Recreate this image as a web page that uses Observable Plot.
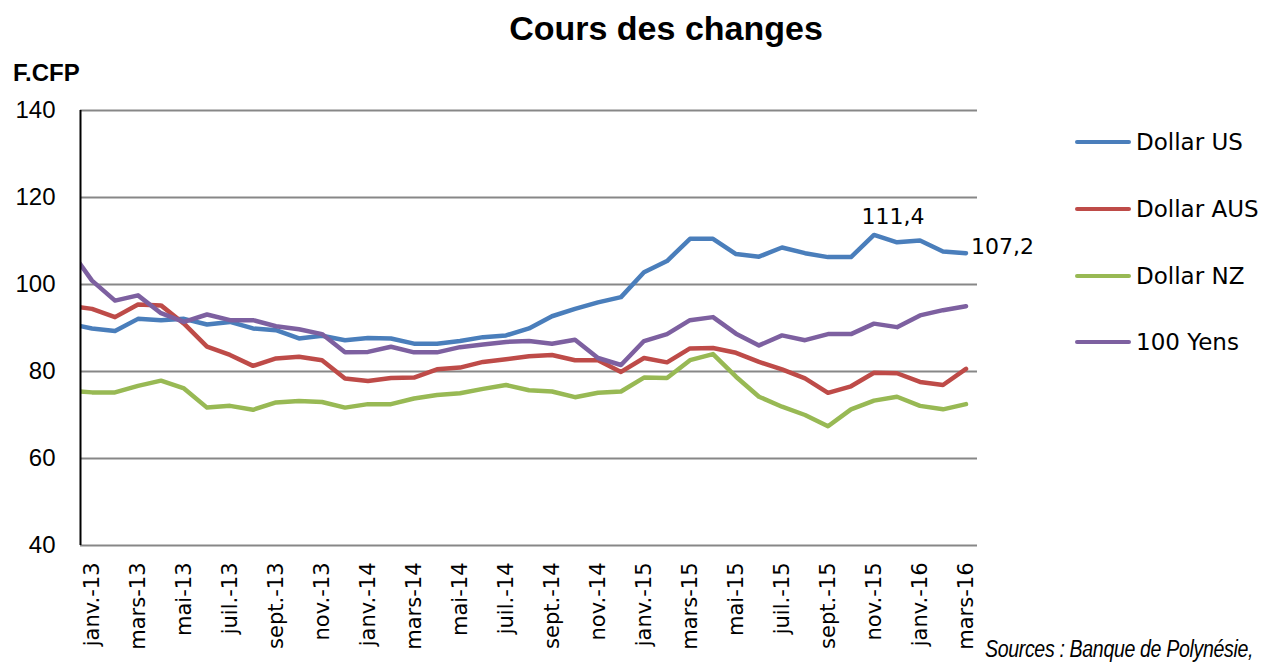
<!DOCTYPE html>
<html>
<head>
<meta charset="utf-8">
<script src="https://cdn.jsdelivr.net/npm/d3@7"></script>
<script src="https://cdn.jsdelivr.net/npm/@observablehq/plot@0.6"></script>
<style>
  html, body { margin: 0; padding: 0; background: #fff; }
  #wrap { position: relative; width: 1262px; height: 663px; overflow: hidden; background: #fff; }
  #wrap svg { position: absolute; left: 0; top: 0; }
  .title { position: absolute; left: 0; width: 1332px; top: 8px; text-align: center;
           font-family: "Liberation Sans", Arial, sans-serif; font-weight: bold; font-size: 34px; line-height: 40px; color: #000; }
  .unit { position: absolute; left: 13px; top: 60px; font-family: "Liberation Sans", Arial, sans-serif;
          font-weight: bold; font-size: 24px; line-height: 26px; color: #000; }
  .leg { position: absolute; left: 1075px; height: 30px; display: flex; align-items: center;
         font-family: "DejaVu Sans", sans-serif; font-size: 23px; color: #000; white-space: nowrap; }
  .leg span.sw { display: inline-block; width: 56px; height: 4px; border-radius: 2px; margin-right: 5px; }
  .source { position: absolute; left: 985px; top: 638px; font-family: "Liberation Sans", Arial, sans-serif;
            font-style: italic; font-size: 23px; line-height: 23px; color: #000; white-space: nowrap;
            letter-spacing: -0.4px; transform: scaleX(0.85); transform-origin: 0 0; }
</style>
</head>
<body>
<div id="wrap"></div>
<script>
// Months (first one, déc.-12, lies just outside the plotted frame and is clipped)
const mois = ["déc.-12",
  "janv.-13","févr.-13","mars-13","avr.-13","mai-13","juin-13","juil.-13","août-13","sept.-13","oct.-13","nov.-13","déc.-13",
  "janv.-14","févr.-14","mars-14","avr.-14","mai-14","juin-14","juil.-14","août-14","sept.-14","oct.-14","nov.-14","déc.-14",
  "janv.-15","févr.-15","mars-15","avr.-15","mai-15","juin-15","juil.-15","août-15","sept.-15","oct.-15","nov.-15","déc.-15",
  "janv.-16","févr.-16","mars-16"];

const series = ["Dollar US", "Dollar AUS", "Dollar NZ", "100 Yens"];
const colors = ["#4A7EBB", "#BE4B48", "#98B954", "#7D60A0"];

const dollarUS = [91.0,
  89.9, 89.3, 92.1, 91.8, 92.1, 90.8, 91.4, 89.9, 89.5, 87.6, 88.2, 87.2,
  87.7, 87.6, 86.4, 86.4, 87.0, 87.9, 88.3, 89.9, 92.7, 94.4, 95.9, 97.1,
  102.8, 105.4, 110.5, 110.5, 107.0, 106.4, 108.5, 107.2, 106.3, 106.3, 111.4, 109.7,
  110.1, 107.6, 107.2];
const dollarAUS = [95.1,
  94.4, 92.5, 95.4, 95.2, 91.0, 85.7, 83.8, 81.3, 83.0, 83.4, 82.6, 78.4,
  77.8, 78.5, 78.6, 80.5, 80.9, 82.2, 82.8, 83.5, 83.8, 82.6, 82.6, 79.9,
  83.1, 82.1, 85.3, 85.4, 84.3, 82.2, 80.5, 78.4, 75.1, 76.6, 79.7, 79.6,
  77.6, 76.9, 80.6];
const dollarNZ = [75.6,
  75.2, 75.2, 76.7, 77.9, 76.1, 71.7, 72.1, 71.2, 72.9, 73.2, 73.0, 71.7,
  72.5, 72.5, 73.8, 74.6, 75.0, 76.0, 76.9, 75.7, 75.4, 74.1, 75.1, 75.4,
  78.6, 78.5, 82.6, 84.0, 78.8, 74.2, 71.9, 70.0, 67.4, 71.3, 73.3, 74.2,
  72.1, 71.3, 72.5];
const yens100 = [108.3,
  100.9, 96.3, 97.5, 93.4, 91.4, 93.1, 91.8, 91.8, 90.4, 89.7, 88.6, 84.4,
  84.5, 85.7, 84.4, 84.4, 85.6, 86.2, 86.8, 87.0, 86.4, 87.3, 83.1, 81.5,
  87.0, 88.6, 91.8, 92.5, 88.7, 86.0, 88.3, 87.2, 88.6, 88.6, 91.0, 90.2,
  92.9, 94.1, 95.0];

const yTicks = [40, 60, 80, 100, 120, 140];
const tickLabels = ["janv.-13","mars-13","mai-13","juil.-13","sept.-13","nov.-13",
  "janv.-14","mars-14","mai-14","juil.-14","sept.-14","nov.-14",
  "janv.-15","mars-15","mai-15","juil.-15","sept.-15","nov.-15",
  "janv.-16","mars-16"];
const annotations = [
  {mois: "nov.-15", serie: "Dollar US", text: "111,4"},
  {mois: "mars-16", serie: "Dollar US", text: "107,2"}
];

// Build table: position index 0 = janv.-13
const valuesBySerie = {"Dollar US": dollarUS, "Dollar AUS": dollarAUS, "Dollar NZ": dollarNZ, "100 Yens": yens100};
const rows = series.flatMap(s => valuesBySerie[s].map((v, k) => ({serie: s, idx: k - 1, mois: mois[k], value: v})));
const tickIdx = tickLabels.map(l => mois.indexOf(l) - 1);
const annRows = annotations.map(a => {
  const k = mois.indexOf(a.mois);
  return {idx: k - 1, value: valuesBySerie[a.serie][k], text: a.text, last: k === mois.length - 1};
});
const nIdx = mois.length - 1; // 39 plotted months

const chart = Plot.plot({
  width: 1262,
  height: 663,
  marginLeft: 80,
  marginRight: 285,
  marginTop: 110,
  marginBottom: 118,
  style: {background: "transparent", fontFamily: "DejaVu Sans, sans-serif", color: "#000"},
  x: {type: "linear", domain: [-0.5, nIdx - 0.5]},
  y: {domain: [40, 140]},
  color: {domain: series, range: colors},
  marks: [
    Plot.ruleY(yTicks, {stroke: "#878787", strokeWidth: 2}),
    Plot.axisY({ticks: yTicks, tickSize: 0, tickPadding: 25, fontSize: 24, fontFamily: "Liberation Sans, Arial, sans-serif", label: null}),
    Plot.axisX({ticks: tickIdx, tickFormat: i => mois[i + 1], tickRotate: -90, tickSize: 0, tickPadding: 17,
                fontSize: 21, fontFamily: "DejaVu Sans, sans-serif", label: null}),
    Plot.lineY(rows, {x: "idx", y: "value", stroke: "serie", z: "serie", strokeWidth: 4.5,
                      strokeLinejoin: "round", strokeLinecap: "round", clip: true}),
    Plot.ruleX([-0.5], {y1: 40, y2: 140, stroke: "#000", strokeWidth: 2}),
    Plot.text(annRows.filter(d => !d.last), {x: "idx", y: "value", text: "text", dx: 19, dy: -18,
              fontSize: 22, fontFamily: "DejaVu Sans, sans-serif", fill: "#000"}),
    Plot.text(annRows.filter(d => d.last), {x: "idx", y: "value", text: "text", dx: 5, dy: -6, textAnchor: "start",
              fontSize: 22, fontFamily: "DejaVu Sans, sans-serif", fill: "#000"})
  ]
});

const wrap = document.getElementById("wrap");
wrap.appendChild(chart);

const title = document.createElement("div");
title.className = "title";
title.textContent = "Cours des changes";
wrap.appendChild(title);

const unit = document.createElement("div");
unit.className = "unit";
unit.textContent = "F.CFP";
wrap.appendChild(unit);

const legTops = [127, 194, 261, 327];
series.forEach((s, i) => {
  const d = document.createElement("div");
  d.className = "leg";
  d.style.top = legTops[i] + "px";
  const sw = document.createElement("span");
  sw.className = "sw";
  sw.style.background = colors[i];
  d.appendChild(sw);
  d.appendChild(document.createTextNode(s));
  wrap.appendChild(d);
});

const src = document.createElement("div");
src.className = "source";
src.textContent = "Sources : Banque de Polynésie,";
wrap.appendChild(src);
</script>
</body>
</html>
